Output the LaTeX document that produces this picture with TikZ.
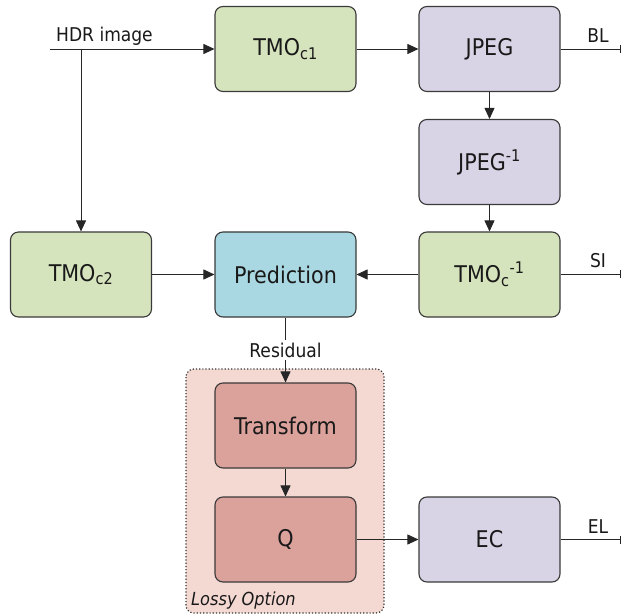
\documentclass[tikz,border=0pt]{standalone}
\usepackage{fontspec}
\setmainfont{DejaVu Sans Condensed}
\usepackage{tikz}
\usetikzlibrary{arrows.meta}
\definecolor{tmogroen}{HTML}{D6E4BD}
\definecolor{jpegpaars}{HTML}{D9D3E6}
\definecolor{predblauw}{HTML}{A9D8E3}
\definecolor{lossyrood}{HTML}{DBA19B}
\definecolor{lossyvak}{HTML}{F4D9D3}
\definecolor{randgrijs}{HTML}{3A3A3A}
\tikzset{
	blok/.style={draw=randgrijs, line width=1.1pt, rounded corners=8pt, minimum width=141pt, minimum height=85pt, inner sep=0pt, text=black!90, font=\fontsize{23}{27}\selectfont},
	label/.style={inner sep=0pt, text=black!90, font=\fontsize{19}{22}\selectfont},
	pijl/.style={draw=black!85, line width=0.9pt, -{Triangle[length=11pt,width=10pt]}},
	uit/.style={draw=black!85, line width=0.9pt, -{Bar[width=8pt,line width=1.2pt]}}
}
\begin{document}
\begin{tikzpicture}[x=1pt,y=-1pt]
		\useasboundingbox (0,0) rectangle (622,615);

		% lossy option
		\draw[fill=lossyvak, draw=black!80, dotted, line width=1.2pt, rounded corners=8pt] (186,369) rectangle (384,613);
		\node[label, anchor=base west, font=\fontsize{18}{21}\selectfont\itshape] (lossy) at (191,605) {Lossy Option};

		\node[blok, fill=tmogroen] (tmoa) at (285.5,49) {TMO\textsubscript{c1}};
		\node[blok, fill=jpegpaars] (jpeg) at (489.5,49) {JPEG};
		\node[blok, fill=jpegpaars] (ijpeg) at (489.5,162) {JPEG\textsuperscript{-1}};
		\node[blok, fill=tmogroen] (tmob) at (81,274.5) {TMO\textsubscript{c2}};
		\node[blok, fill=predblauw] (pred) at (285.5,274.5) {Prediction};
		\node[blok, fill=tmogroen] (itmo) at (489.5,274.5) {TMO\textsubscript{c}\textsuperscript{-1}};
		\node[blok, fill=lossyrood] (trans) at (285.5,425.5) {Transform};
		\node[blok, fill=lossyrood] (quant) at (285.5,539.5) {Q};
		\node[blok, fill=jpegpaars] (ec) at (489.5,539.5) {EC};

		\coordinate (hdrin) at (50,49);
		\coordinate (split) at (81,49);
		\coordinate (blout) at (621,49);
		\coordinate (siout) at (621,274.5);
		\coordinate (elout) at (621,539.5);

		\node[label, anchor=base west] (hdr) at (56,42) {HDR image};
		\node[label, anchor=base] (bl) at (598,43) {BL};
		\node[label, anchor=base] (si) at (598,268) {SI};
		\node[label, anchor=base] (el) at (598,533) {EL};

		\draw[pijl] (hdrin) -- (tmoa);
		\draw[pijl] (split) -- (tmob);
		\draw[pijl] (tmoa) -- (jpeg);
		\draw[pijl] (jpeg) -- (ijpeg);
		\draw[pijl] (ijpeg) -- (itmo);
		\draw[pijl] (itmo) -- (pred);
		\draw[pijl] (tmob) -- (pred);
		\draw[pijl] (pred) -- node[label, fill=white, inner ysep=3pt, inner xsep=1pt] (res) {Residual} (trans);
		\draw[pijl] (trans) -- (quant);
		\draw[pijl] (quant) -- (ec);

		\draw[uit] (jpeg) -- (blout);
		\draw[uit] (itmo) -- (siout);
		\draw[uit] (ec) -- (elout);
	\end{tikzpicture}
\end{document}
